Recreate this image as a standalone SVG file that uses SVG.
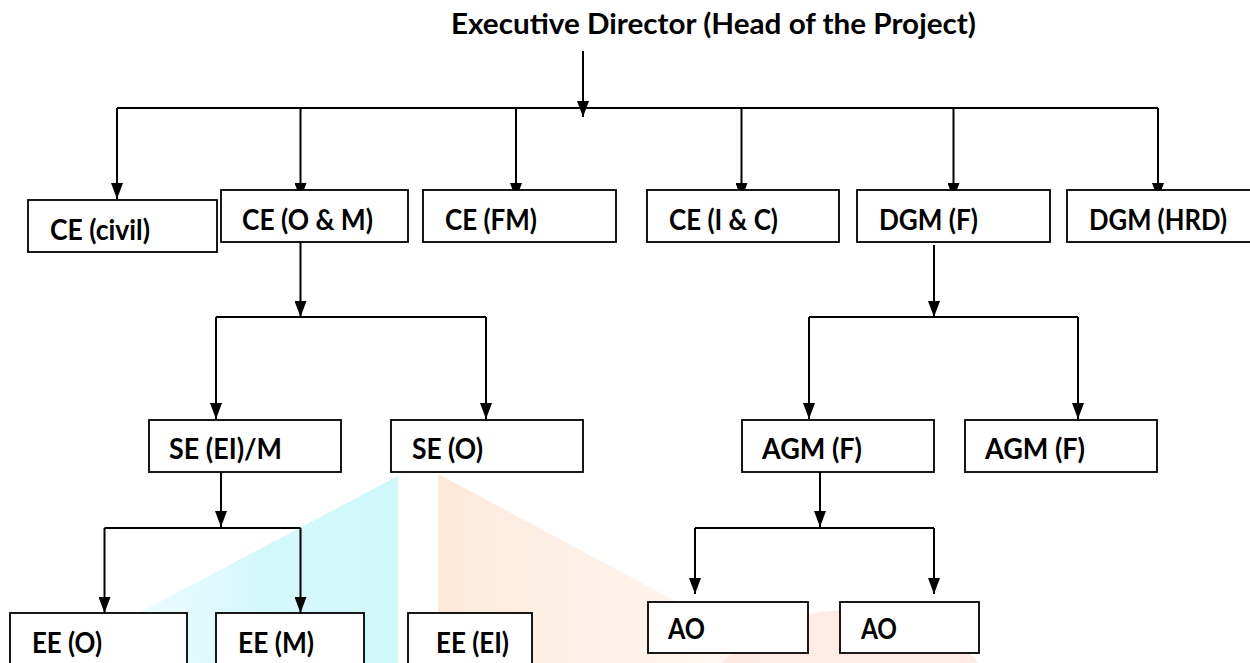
<svg xmlns="http://www.w3.org/2000/svg" width="1250" height="663" viewBox="0 0 1250 663">
<style>
.box{fill:#fff;stroke:#000;stroke-width:1.8}
.ln{fill:none;stroke:#000;stroke-width:2}
.t{font-family:Lato,"Open Sans","Liberation Sans",sans-serif;font-weight:bold;font-size:28px;fill:#000}
</style>
<defs>
<marker id="arr" viewBox="0 0 16 12" refX="16" refY="6" markerWidth="16" markerHeight="12" markerUnits="userSpaceOnUse" orient="auto">
<path d="M0,0 L16,6 L0,12 z" fill="#000"/>
</marker>
<linearGradient id="cy" x1="0" y1="0" x2="1" y2="0">
<stop offset="0" stop-color="#e6fafc" stop-opacity="0.3"/>
<stop offset="0.6" stop-color="#d6f8fb"/>
<stop offset="1" stop-color="#cff8fb"/>
</linearGradient>
<linearGradient id="or" x1="0" y1="0" x2="1" y2="0">
<stop offset="0" stop-color="#fde9d9"/>
<stop offset="1" stop-color="#fdeee3" stop-opacity="0.4"/>
</linearGradient>
</defs>
<rect width="1250" height="663" fill="#fff"/>
<g id="watermark">
<polygon points="398,476 398,663 44,663" fill="url(#cy)"/>
<polygon points="438,474 760,646 760,663 438,663" fill="url(#or)"/>
<ellipse cx="850" cy="720" rx="150" ry="110" fill="#fde3da" opacity="0.7"/>
</g>
<g id="connectors">
<path class="ln" d="M583,51 V117" marker-end="url(#arr)"/>
<path class="ln" d="M117,108 H1158"/>
<path class="ln" d="M117,108 V199" marker-end="url(#arr)"/>
<path class="ln" d="M300.5,108 V199" marker-end="url(#arr)"/>
<path class="ln" d="M516,108 V199" marker-end="url(#arr)"/>
<path class="ln" d="M741.5,108 V199" marker-end="url(#arr)"/>
<path class="ln" d="M953.5,108 V199" marker-end="url(#arr)"/>
<path class="ln" d="M1158,108 V199" marker-end="url(#arr)"/>
<path class="ln" d="M300.5,242 V317" marker-end="url(#arr)"/>
<path class="ln" d="M216,317 H486"/>
<path class="ln" d="M216,317 V419" marker-end="url(#arr)"/>
<path class="ln" d="M486,317 V419" marker-end="url(#arr)"/>
<path class="ln" d="M934,245 V317" marker-end="url(#arr)"/>
<path class="ln" d="M809,317 H1078"/>
<path class="ln" d="M809,317 V419" marker-end="url(#arr)"/>
<path class="ln" d="M1078,317 V419" marker-end="url(#arr)"/>
<path class="ln" d="M221,472 V527" marker-end="url(#arr)"/>
<path class="ln" d="M104.5,528 H300.5"/>
<path class="ln" d="M104.5,528 V613" marker-end="url(#arr)"/>
<path class="ln" d="M300.5,528 V613" marker-end="url(#arr)"/>
<path class="ln" d="M820,472 V527" marker-end="url(#arr)"/>
<path class="ln" d="M695,528 H934"/>
<path class="ln" d="M695,528 V594" marker-end="url(#arr)"/>
<path class="ln" d="M934,528 V594" marker-end="url(#arr)"/>
</g>
<g id="ed"><text class="t" x="451" y="34" textLength="525" lengthAdjust="spacingAndGlyphs">Executive Director (Head of the Project)</text></g>
<g id="ce-civil"><rect class="box" x="28" y="200" width="189" height="52"/><text class="t" x="50" y="240" textLength="100" lengthAdjust="spacingAndGlyphs">CE (civil)</text></g>
<g id="ce-om"><rect class="box" x="221" y="190" width="187" height="52"/><text class="t" x="242" y="230" textLength="131" lengthAdjust="spacingAndGlyphs">CE (O &amp; M)</text></g>
<g id="ce-fm"><rect class="box" x="423" y="190" width="193" height="52"/><text class="t" x="445" y="230" textLength="92" lengthAdjust="spacingAndGlyphs">CE (FM)</text></g>
<g id="ce-ic"><rect class="box" x="647" y="190" width="192" height="52"/><text class="t" x="669" y="230" textLength="109" lengthAdjust="spacingAndGlyphs">CE (I &amp; C)</text></g>
<g id="dgm-f"><rect class="box" x="857" y="190" width="193" height="52"/><text class="t" x="879" y="230" textLength="99" lengthAdjust="spacingAndGlyphs">DGM (F)</text></g>
<g id="dgm-hrd"><rect class="box" x="1067" y="190" width="186" height="52"/><text class="t" x="1089" y="230" textLength="138" lengthAdjust="spacingAndGlyphs">DGM (HRD)</text></g>
<g id="se-eim"><rect class="box" x="149" y="420" width="192" height="52"/><text class="t" x="169" y="459" textLength="113" lengthAdjust="spacingAndGlyphs">SE (EI)/M</text></g>
<g id="se-o"><rect class="box" x="391" y="420" width="192" height="52"/><text class="t" x="412" y="459" textLength="71" lengthAdjust="spacingAndGlyphs">SE (O)</text></g>
<g id="agm-f1"><rect class="box" x="742" y="420" width="192" height="52"/><text class="t" x="762" y="459" textLength="100" lengthAdjust="spacingAndGlyphs">AGM (F)</text></g>
<g id="agm-f2"><rect class="box" x="965" y="420" width="192" height="52"/><text class="t" x="985" y="459" textLength="100" lengthAdjust="spacingAndGlyphs">AGM (F)</text></g>
<g id="ee-o"><rect class="box" x="10" y="613" width="177" height="60"/><text class="t" x="32" y="653" textLength="70" lengthAdjust="spacingAndGlyphs">EE (O)</text></g>
<g id="ee-m"><rect class="box" x="216" y="613" width="148" height="60"/><text class="t" x="238" y="653" textLength="76" lengthAdjust="spacingAndGlyphs">EE (M)</text></g>
<g id="ee-ei"><rect class="box" x="408" y="613" width="124" height="60"/><text class="t" x="436" y="653" textLength="73" lengthAdjust="spacingAndGlyphs">EE (EI)</text></g>
<g id="ao1"><rect class="box" x="648" y="602" width="160" height="51"/><text class="t" x="668" y="639" textLength="37" lengthAdjust="spacingAndGlyphs">AO</text></g>
<g id="ao2"><rect class="box" x="840" y="602" width="139" height="51"/><text class="t" x="861" y="639" textLength="36" lengthAdjust="spacingAndGlyphs">AO</text></g>
</svg>
